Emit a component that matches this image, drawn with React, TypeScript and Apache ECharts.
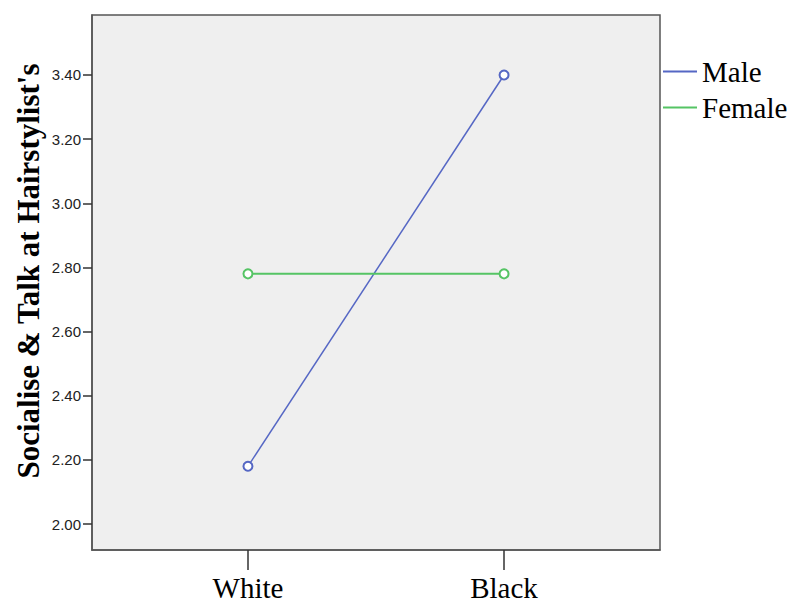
import React, { useEffect, useRef } from "react";
import * as echarts from "echarts";

const categories = ["White", "Black"];
const maleValues = [2.18, 3.40];
const femaleValues = [2.78, 2.78];
const yTicks = [2.0, 2.2, 2.4, 2.6, 2.8, 3.0, 3.2, 3.4];
const seriesNames = ["Male", "Female"];
const yTitle = "Socialise & Talk at Hairstylist's";

export default function App() {
  const ref = useRef<HTMLDivElement>(null);
  useEffect(() => {
    if (!ref.current) return;
    const chart = echarts.init(ref.current, undefined, { renderer: "svg" });
    const maleColor = "#5567c4";
    const femaleColor = "#55c464";
    chart.setOption({
      animation: false,
      backgroundColor: "#ffffff",
      grid: {
        left: 92,
        top: 15,
        right: 133,
        bottom: 52,
        show: true,
        backgroundColor: "#efefef",
        borderColor: "#555555",
        borderWidth: 1.5,
      },
      legend: {
        orient: "vertical",
        left: 658,
        top: 52,
        itemWidth: 34,
        itemHeight: 2,
        itemGap: 7,
        textStyle: {
          fontFamily: "Liberation Serif",
          fontSize: 29,
          color: "#000",
          lineHeight: 28,
        },
        data: [
          { name: seriesNames[0], icon: "rect" },
          { name: seriesNames[1], icon: "rect" },
        ],
      },
      xAxis: {
        type: "value",
        min: -0.609,
        max: 1.609,
        splitLine: { show: false },
        axisLine: { show: true, onZero: false, lineStyle: { color: "#555555", width: 1.5 } },
        axisTick: {
          show: true,
          customValues: [0, 1],
          length: 20,
          lineStyle: { color: "#333", width: 1.5 },
        },
        axisLabel: {
          customValues: [0, 1],
          formatter: (v: number) => categories[Math.round(v)] ?? "",
          fontFamily: "Liberation Serif",
          fontSize: 29,
          color: "#000",
          margin: 23,
        },
      },
      yAxis: {
        type: "value",
        min: 1.919,
        max: 3.587,
        splitLine: { show: false },
        axisLine: { show: true, onZero: false, lineStyle: { color: "#555555", width: 1.5 } },
        axisTick: {
          show: true,
          customValues: yTicks,
          length: 9,
          lineStyle: { color: "#333", width: 1.5 },
        },
        axisLabel: {
          customValues: yTicks,
          formatter: (v: number) => v.toFixed(2),
          fontFamily: "Liberation Sans",
          fontSize: 15,
          color: "#222",
          margin: 11,
        },
      },
      graphic: [
        {
          type: "text",
          x: 28,
          y: 271,
          rotation: Math.PI / 2,
          style: {
            text: yTitle,
            fontFamily: "Liberation Serif",
            fontWeight: "bold",
            fontSize: 31,
            fill: "#000",
            align: "center",
            verticalAlign: "middle",
          },
        },
      ],
      series: [
        {
          name: seriesNames[0],
          type: "line",
          data: categories.map((_, i) => [i, maleValues[i]]),
          symbol: "emptyCircle",
          symbolSize: 9,
          lineStyle: { color: maleColor, width: 1.5 },
          itemStyle: { color: maleColor, borderWidth: 1.5 },
        },
        {
          name: seriesNames[1],
          type: "line",
          data: categories.map((_, i) => [i, femaleValues[i]]),
          symbol: "emptyCircle",
          symbolSize: 9,
          lineStyle: { color: femaleColor, width: 2 },
          itemStyle: { color: femaleColor, borderWidth: 1.5 },
        },
      ],
    });
    return () => chart.dispose();
  }, []);
  return (
    <div
      ref={ref}
      style={{ position: "fixed", left: 0, top: 0, width: 793, height: 602 }}
    />
  );
}
